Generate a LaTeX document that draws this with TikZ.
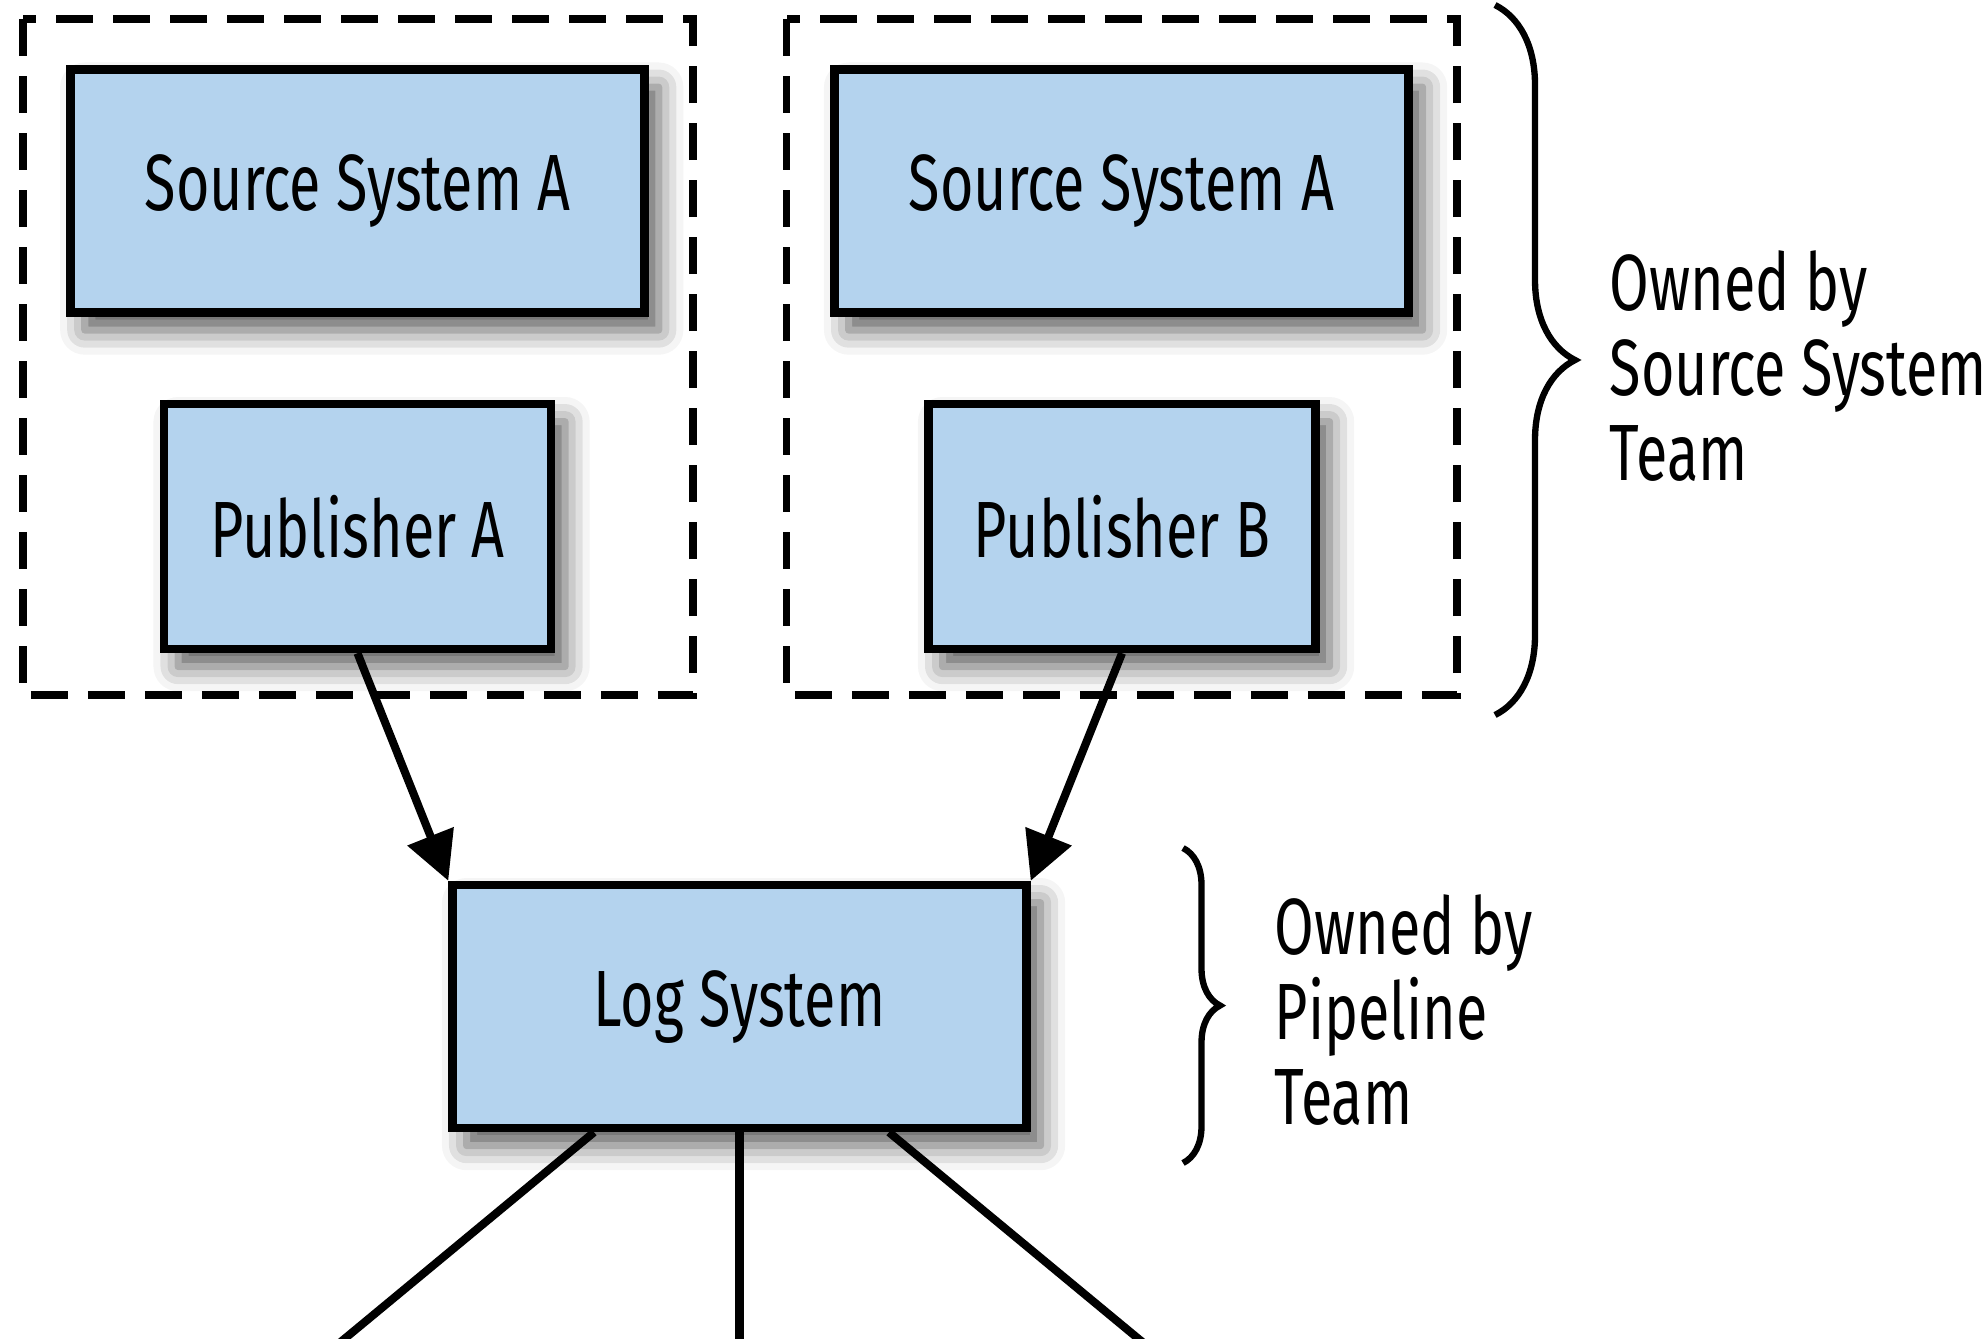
\documentclass[tikz,border=0pt]{standalone}
\usepackage{fontspec}
\usepackage{xcolor}
\setmainfont{Fira Sans}[FakeStretch=0.72]
\usetikzlibrary{arrows.meta,positioning,calc,decorations.pathreplacing,shadows.blur}
\definecolor{boxblue}{RGB}{180,211,238}

\begin{document}
\begin{tikzpicture}[
    sysbox/.style={rectangle,draw,line width=2.4pt,fill=boxblue,
      blur shadow={shadow xshift=4pt,shadow yshift=-5pt,shadow blur radius=7pt,shadow opacity=65},
      font=\fontsize{22.7}{24}\selectfont},
    bigbox/.style={sysbox,minimum width=5.74cm,minimum height=2.43cm},
    pubbox/.style={sysbox,minimum width=3.87cm,minimum height=2.45cm},
    groupbox/.style={line width=2.2pt,dash pattern=on 0.37cm off 0.2cm},
    flow/.style={line width=2.3pt,-{Triangle[length=0.48cm,width=0.48cm]}},
    link/.style={line width=2.3pt},
    ownbrace/.style={decorate,line width=1.8pt},
    owner/.style={align=left,anchor=west,inner sep=0pt,font=\fontsize{22.7}{24.2}\selectfont}
  ]
  \useasboundingbox (0,0) rectangle (19.84,-13.38);

  % Source system groups
  \draw[groupbox] (0.227,-0.193) rectangle (6.93,-6.95);
  \draw[groupbox] (7.865,-0.193) rectangle (14.57,-6.95);

  \node[bigbox] (srcA) at (3.577,-1.91) {Source System A};
  \node[pubbox] (pubA) at (3.575,-5.265) {Publisher A};

  \node[bigbox] (srcB) at (11.215,-1.91) {Source System A};
  \node[pubbox] (pubB) at (11.22,-5.265) {Publisher B};

  % Log system
  \node[bigbox] (log) at (7.395,-10.065) {Log System};

  \draw[flow] (pubA.south) -- (log.north west);
  \draw[flow] (pubB.south) -- (log.north east);

  % Consumers below (cut off)
  \coordinate (outL) at (3.37,-13.45);
  \coordinate (outM) at (7.395,-13.45);
  \coordinate (outR) at (11.46,-13.45);
  \draw[link] ([xshift=-1.455cm]log.south) -- (outL);
  \draw[link] (log.south) -- (outM);
  \draw[link] ([xshift=1.495cm]log.south) -- (outR);

  % Ownership braces
  \draw[ownbrace,decoration={brace,amplitude=0.8cm}] (14.95,-0.05) -- (14.95,-7.15);
  \node[owner] (ownSrc) at (16.09,-3.66) {Owned by\\Source System\\Team};

  \draw[ownbrace,decoration={brace,amplitude=0.37cm}] (11.83,-8.48) -- (11.83,-11.63);
  \node[owner] (ownPipe) at (12.74,-10.1) {Owned by\\Pipeline\\Team};

\end{tikzpicture}
\end{document}
